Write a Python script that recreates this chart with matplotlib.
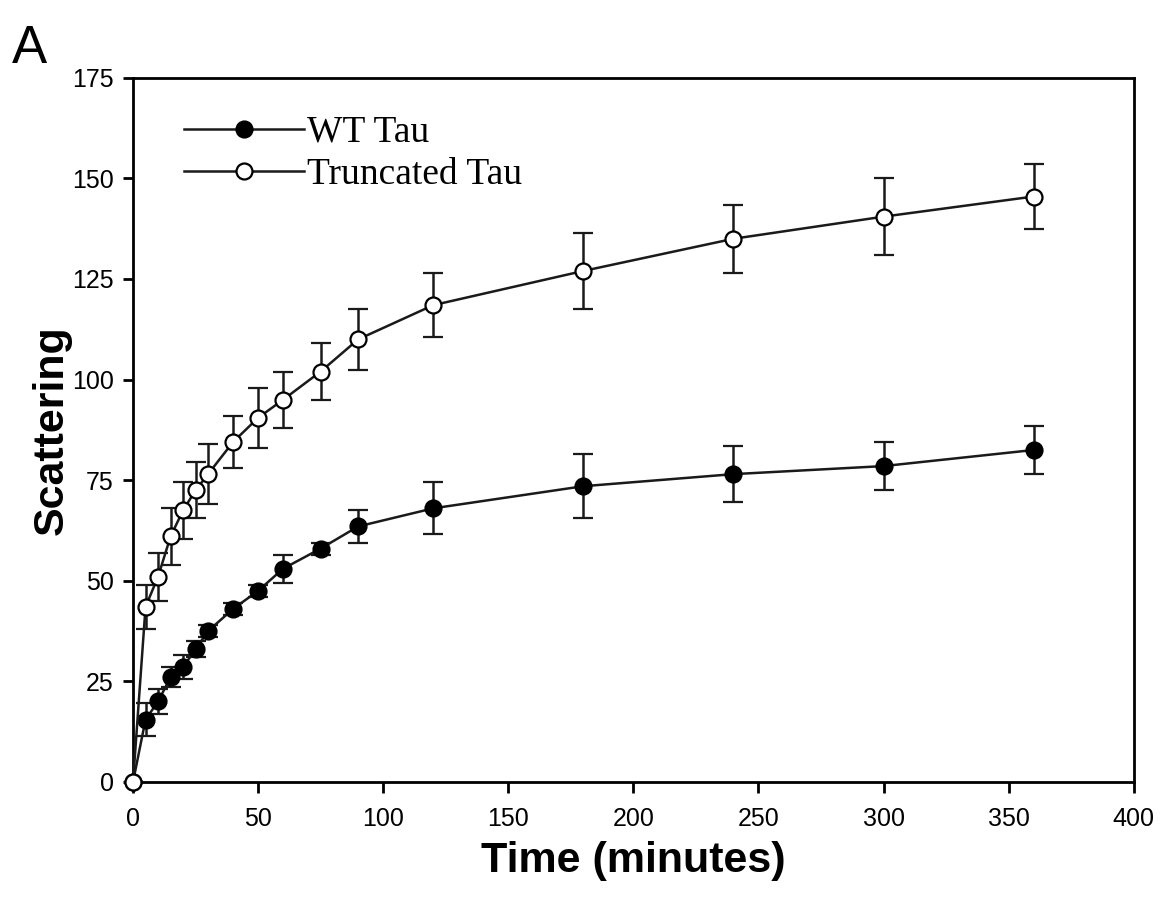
import numpy as np
import matplotlib.pyplot as plt

# time points (minutes)
time = [0, 5, 10, 15, 20, 25, 30, 40, 50, 60, 75, 90, 120, 180, 240, 300, 360]

wt_mean = [0, 15.5, 20, 26, 28.5, 33, 37.5, 43, 47.5, 53, 58, 63.5, 68, 73.5, 76.5, 78.5, 82.5]
wt_err = [0, 4, 3, 2.5, 3, 2, 1.5, 1.5, 1.5, 3.5, 1.5, 4, 6.5, 8, 7, 6, 6]

trunc_mean = [0, 43.5, 51, 61, 67.5, 72.5, 76.5, 84.5, 90.5, 95, 102, 110, 118.5, 127, 135, 140.5, 145.5]
trunc_err = [0, 5.5, 6, 7, 7, 7, 7.5, 6.5, 7.5, 7, 7, 7.5, 8, 9.5, 8.5, 9.5, 8]

fig = plt.figure(figsize=(11.69, 9.05), dpi=100)
ax = fig.add_axes([0.1138, 0.136, 0.856, 0.778])

for y, e, face, lab in [(wt_mean, wt_err, 'black', 'WT Tau'),
                        (trunc_mean, trunc_err, 'white', 'Truncated Tau')]:
    eb = ax.errorbar(time, y, yerr=e, fmt='-o', color='#1a1a1a', mfc=face,
                     mec='black', ms=11.5, mew=1.6, lw=1.8, elinewidth=1.8,
                     capsize=7, capthick=1.8, label=lab, zorder=3)
    eb.lines[0].set_clip_on(False)

ax.set_xlim(0, 400)
ax.set_ylim(0, 175)
ax.set_xticks(np.arange(0, 401, 50))
ax.set_yticks(np.arange(0, 176, 25))
for s in ax.spines.values():
    s.set_linewidth(2)
ax.tick_params(axis='x', direction='out', length=8, width=2, pad=10, labelsize=18)
ax.tick_params(axis='y', direction='out', length=7, width=2, pad=7, labelsize=18)
ax.tick_params(top=False, right=False)
for lbl in ax.get_xticklabels() + ax.get_yticklabels():
    lbl.set_fontfamily('Liberation Sans')

ax.set_xlabel('Time (minutes)', fontsize=31, fontweight='bold',
              family='Liberation Sans', labelpad=7)
ax.set_ylabel('Scattering', fontsize=31, fontweight='bold',
              family='Liberation Sans', labelpad=0)

handles, labels = ax.get_legend_handles_labels()
handles = [h[0] for h in handles]
ax.legend(handles, labels, loc='upper left', bbox_to_anchor=(0.013, 1.0),
          frameon=False, handlelength=3.2,
          prop={'family': 'Liberation Serif', 'size': 27}, borderaxespad=0.6,
          labelspacing=0.2, handletextpad=0.1)

fig.text(0.01, 0.93, 'A', fontsize=38, family='Liberation Sans')

fig.savefig('out.png', dpi=100)
